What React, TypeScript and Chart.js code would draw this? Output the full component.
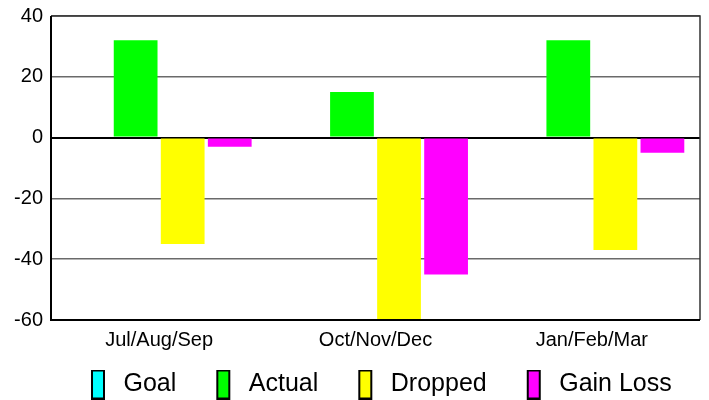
import React, { useEffect, useRef } from "react";
import { Chart, registerables } from "chart.js";

Chart.register(...registerables);

const categories = ["Jul/Aug/Sep", "Oct/Nov/Dec", "Jan/Feb/Mar"];
const seriesNames = ["Goal", "Actual", "Dropped", "Gain Loss"];
const goal = [0, 0, 0];
const actual = [32, 15, 32];
const dropped = [-35, -60, -37];
const gainLoss = [-3, -45, -5];
const yTicks = [-60, -40, -20, 0, 20, 40];
const colors = ["#00ffff", "#00ff00", "#ffff00", "#ff00ff"];

const FONT = "'Liberation Sans', Arial, sans-serif";

const LEG_LEFT = 28;
const LEG_BOX = 14;
const LEG_RIGHT = 6;
const LEG_W = LEG_LEFT + LEG_BOX + LEG_RIGHT;
const LEG_H = 30;

function makeSwatch(color: string) {
  const c = document.createElement("canvas");
  c.width = LEG_W;
  c.height = LEG_H;
  const ctx = c.getContext("2d")!;
  ctx.fillStyle = color;
  ctx.fillRect(LEG_LEFT + 1, 1, LEG_BOX - 2, LEG_H - 2);
  ctx.strokeStyle = "#000";
  ctx.lineWidth = 2;
  ctx.strokeRect(LEG_LEFT + 1, 1, LEG_BOX - 2, LEG_H - 2);
  return c;
}

const borderPlugin = {
  id: "frame",
  afterDraw(chart: any) {
    const { ctx, chartArea } = chart;
    ctx.save();
    ctx.strokeStyle = "#333";
    ctx.lineWidth = 1.5;
    ctx.beginPath();
    ctx.moveTo(chartArea.left, chartArea.top);
    ctx.lineTo(chartArea.right, chartArea.top);
    ctx.lineTo(chartArea.right, chartArea.bottom);
    ctx.stroke();
    ctx.strokeStyle = "#000";
    ctx.lineWidth = 2;
    ctx.beginPath();
    ctx.moveTo(chartArea.left, chartArea.top);
    ctx.lineTo(chartArea.left, chartArea.bottom);
    ctx.lineTo(chartArea.right, chartArea.bottom);
    ctx.stroke();
    ctx.restore();
  },
};

export default function App() {
  const ref = useRef<HTMLCanvasElement | null>(null);
  useEffect(() => {
    if (!ref.current) return;
    const values = [goal, actual, dropped, gainLoss];
    const swatches = colors.map(makeSwatch);
    const chart = new Chart(ref.current, {
      type: "bar",
      data: {
        labels: categories,
        datasets: seriesNames.map((label, i) => ({
          label,
          data: values[i],
          backgroundColor: colors[i],
          borderWidth: 0,
          categoryPercentage: 0.87,
          barPercentage: 0.93,
        })),
      },
      options: {
        animation: false,
        responsive: true,
        maintainAspectRatio: false,
        layout: { padding: { left: 0, right: 9, top: 2, bottom: 0 } },
        scales: {
          x: {
            afterFit: (axis: any) => {
              axis.height = 40;
            },
            grid: { display: false, drawTicks: false },
            border: { display: false },
            ticks: { color: "#000", font: { family: FONT, size: 20 }, padding: 8 },
          },
          y: {
            min: -60,
            max: 40,
            afterFit: (axis: any) => {
              axis.width = 51;
            },
            afterBuildTicks: (axis: any) => {
              axis.ticks = yTicks.map((v) => ({ value: v }));
            },
            grid: {
              drawTicks: false,
              color: (c: any) => (c.tick && c.tick.value === 0 ? "#000" : "#6a6a6a"),
              lineWidth: (c: any) => (c.tick && c.tick.value === 0 ? 2 : 1.5),
            },
            border: { display: false },
            ticks: { color: "#000", font: { family: FONT, size: 20 }, padding: 8 },
          },
        },
        plugins: {
          tooltip: { enabled: false },
          legend: {
            position: "bottom",
            align: "start",
            fullSize: false,
            labels: {
              font: { family: FONT, size: 25 },
              color: "#000",
              usePointStyle: true,
              pointStyleWidth: LEG_W,
              boxHeight: 25,
              padding: 12,
              generateLabels: (ch: any) =>
                ch.data.datasets.map((d: any, i: number) => ({
                  text: d.label,
                  fillStyle: d.backgroundColor,
                  strokeStyle: "#000",
                  lineWidth: 2,
                  pointStyle: swatches[i],
                  hidden: false,
                  datasetIndex: i,
                  fontColor: "#000",
                })),
            },
          },
        },
      },
      plugins: [borderPlugin],
    });
    return () => chart.destroy();
  }, []);
  return (
    <div style={{ position: "fixed", left: 0, top: 0, width: 709, height: 400, overflow: "hidden", background: "#fff" }}>
      <div style={{ position: "relative", top: -4, width: 709, height: 411 }}>
        <canvas ref={ref} />
      </div>
    </div>
  );
}
